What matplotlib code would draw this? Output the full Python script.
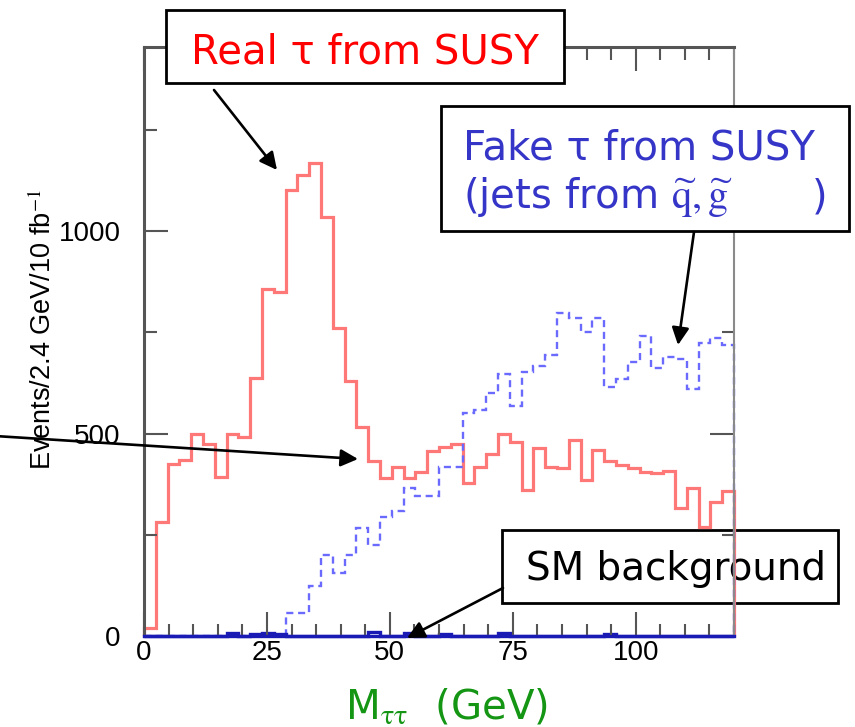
import numpy as np
import matplotlib
matplotlib.use('Agg')
import matplotlib.pyplot as plt
from matplotlib.patches import Rectangle, FancyArrowPatch
from matplotlib.ticker import MultipleLocator

# M_tautau histograms, 50 bins of 2.4 GeV from 0 to 120 GeV
bin_edges = np.linspace(0, 120, 51)

real_tau = [20, 282, 426, 436, 500, 475, 393, 500, 492, 638,
            858, 849, 1101, 1140, 1168, 1035, 760, 631, 517, 433,
            391, 418, 391, 406, 458, 468, 475, 379, 418, 450,
            500, 480, 361, 465, 418, 416, 483, 386, 460, 433,
            423, 416, 406, 403, 408, 317, 366, 270, 332, 359]

fake_tau = [0, 0, 0, 0, 0, 0, 0, 0, 0, 0,
            0, 0, 57, 57, 124, 200, 156, 200, 267, 225,
            295, 310, 366, 346, 346, 418, 418, 552, 559, 601,
            646, 567, 651, 666, 693, 797, 785, 752, 785, 614,
            634, 678, 740, 661, 690, 685, 609, 725, 735, 720]

sm_background = [0, 0, 0, 0, 0, 0, 0, 8, 0, 5,
                 7, 6, 0, 0, 0, 0, 0, 0, 0, 9,
                 0, 0, 8, 0, 0, 6, 0, 0, 0, 0,
                 7, 0, 0, 0, 0, 0, 0, 0, 0, 5,
                 0, 0, 0, 0, 0, 0, 0, 0, 0, 0]

plt.rcParams['font.family'] = 'Liberation Sans'
plt.rcParams['mathtext.fontset'] = 'stix'

W, H = 855, 727
fig = plt.figure(figsize=(W / 100, H / 100), dpi=100)


def fx(x):
    return x / W


def fy(y):
    return 1 - y / H


ax = fig.add_axes([fx(144), fy(636), 590 / W, 589 / H])
ax.set_facecolor('none')

ax.stairs(real_tau, bin_edges, baseline=0, color='#ff7878', lw=2.3, clip_on=False)
ax.stairs(fake_tau, bin_edges, baseline=0, color='#6a6aff', lw=1.7,
          linestyle=(0, (3, 2)), clip_on=False)
ax.stairs(sm_background, bin_edges, baseline=0, color='#1a1ab4', lw=2.4, clip_on=False)

ax.set_xlim(0, 120)
ax.set_ylim(0, 1455)

ax.xaxis.set_major_locator(MultipleLocator(25))
ax.xaxis.set_minor_locator(MultipleLocator(5))
ax.yaxis.set_major_locator(MultipleLocator(500))
ax.yaxis.set_minor_locator(MultipleLocator(250))
ax.tick_params(which='both', direction='in', top=True, right=True,
               color='#555555', width=1.5, labelsize=20)
ax.tick_params(which='major', length=17)
ax.tick_params(which='minor', length=9)
ax.tick_params(axis='x', pad=3)
ax.tick_params(axis='y', pad=17)

for side in ['left', 'top']:
    ax.spines[side].set_color('#555555')
    ax.spines[side].set_linewidth(2.2)
ax.spines['right'].set_color('#8a8a8a')
ax.spines['right'].set_linewidth(1.5)
ax.spines['bottom'].set_color('#1a1ab4')
ax.spines['bottom'].set_linewidth(2.4)

ax.set_ylabel(r'Events/2.4 GeV/10 fb$^{-1}$', fontsize=19.5)
ax.yaxis.set_label_coords(-0.1475, 0.5195)
ax.set_xlabel(r'M$_{\mathrm{\tau\tau}}$  (GeV)', fontsize=29, color='#149614',
              family='DejaVu Sans', va='baseline')
ax.xaxis.set_label_coords((447 - 144) / 590, -(718 - 636) / 589)


def box(x0, y0, x1, y1, z):
    fig.add_artist(Rectangle((fx(x0), fy(y1)), (x1 - x0) / W, (y1 - y0) / H,
                             transform=fig.transFigure, facecolor='white',
                             edgecolor='black', lw=2, zorder=z))


def arrow(x0, y0, x1, y1):
    fig.add_artist(FancyArrowPatch((fx(x0), fy(y0)), (fx(x1), fy(y1)),
                                   transform=fig.transFigure, arrowstyle='-|>',
                                   mutation_scale=26, lw=1.9, color='black',
                                   shrinkA=0, shrinkB=0, zorder=5))


note = dict(family='DejaVu Sans', fontsize=29, va='baseline')

# real tau label
box(166, 10, 564, 83, 3)
fig.text(fx(365), fy(63), 'Real τ from SUSY', color='#ff0000', ha='center',
         zorder=4, **note)

# fake tau label
box(441, 106, 849, 231, 3)
fig.text(fx(463), fy(160), 'Fake τ from SUSY', color='#3535c8', ha='left',
         zorder=4, **note)
fig.text(fx(463), fy(208), r'(jets from $\widetilde{\mathrm{q}},\widetilde{\mathrm{g}}$',
         color='#3535c8', ha='left', zorder=4, **note)
fig.text(fx(827), fy(208), ')', color='#3535c8', ha='right', zorder=4, **note)

# SM background label sits under the histograms
box(502, 530, 838, 603, -2)
fig.text(fx(676), fy(580), 'SM background', color='black', ha='center',
         zorder=-1, family='DejaVu Sans', fontsize=28, va='baseline')

arrow(214, 90, 277, 170)
arrow(-5, 436, 358, 459)
arrow(694, 232, 678, 345)
arrow(503, 588, 407, 638)

fig.savefig('out.png', dpi=100)
